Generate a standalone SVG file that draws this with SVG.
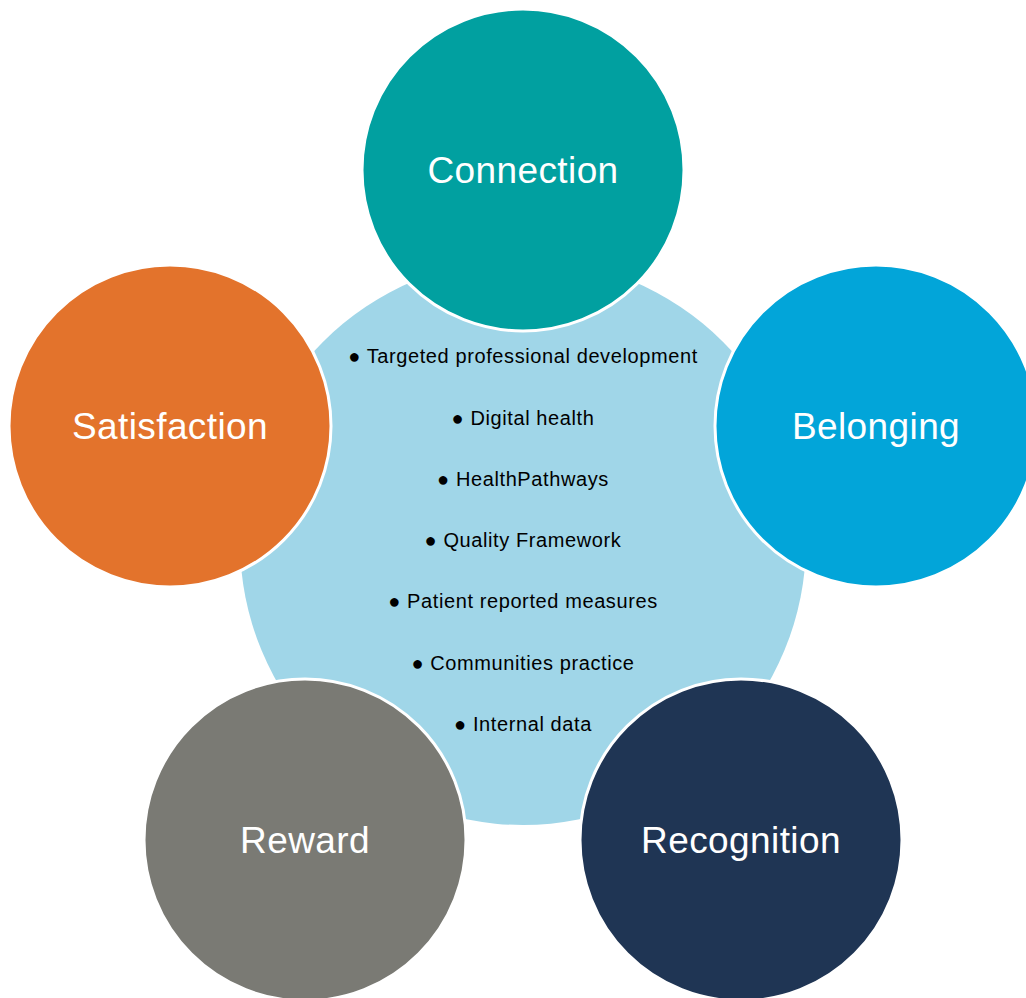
<svg xmlns="http://www.w3.org/2000/svg" width="1026" height="998" viewBox="0 0 1026 998">
  <style>
    .ring { stroke: #ffffff; stroke-width: 3; }
    .big { font-family: "Liberation Sans", Arial, sans-serif; font-size: 37px; letter-spacing: 0.4px; fill: #ffffff; text-anchor: middle; }
    .item { font-family: "Liberation Sans", Arial, sans-serif; font-size: 20px; letter-spacing: 0.6px; fill: #000000; text-anchor: middle; }
  </style>
  <rect width="1026" height="998" fill="#ffffff"/>

  <!-- central hub with the list of initiatives -->
  <g id="hub">
    <circle cx="523" cy="542" r="283" fill="#a0d6e8"/>
    <text class="item" x="523" y="363">● Targeted professional development</text>
    <text class="item" x="523" y="425">● Digital health</text>
    <text class="item" x="523" y="486">● HealthPathways</text>
    <text class="item" x="523" y="547">● Quality Framework</text>
    <text class="item" x="523" y="608">● Patient reported measures</text>
    <text class="item" x="523" y="670">● Communities practice</text>
    <text class="item" x="523" y="731">● Internal data</text>
  </g>

  <g id="connectors"></g>

  <g id="connection">
    <circle class="ring" cx="523" cy="170" r="161" fill="#01a0a0"/>
    <text class="big" x="523" y="183">Connection</text>
  </g>

  <g id="belonging">
    <circle class="ring" cx="876" cy="426" r="161" fill="#02a5d9"/>
    <text class="big" x="876" y="439">Belonging</text>
  </g>

  <g id="recognition">
    <circle class="ring" cx="741" cy="840" r="161" fill="#1f3554"/>
    <text class="big" x="741" y="853">Recognition</text>
  </g>

  <g id="reward">
    <circle class="ring" cx="305" cy="840" r="161" fill="#7a7a74"/>
    <text class="big" x="305" y="853">Reward</text>
  </g>

  <g id="satisfaction">
    <circle class="ring" cx="170" cy="426" r="161" fill="#e3732c"/>
    <text class="big" x="170" y="439">Satisfaction</text>
  </g>
</svg>
